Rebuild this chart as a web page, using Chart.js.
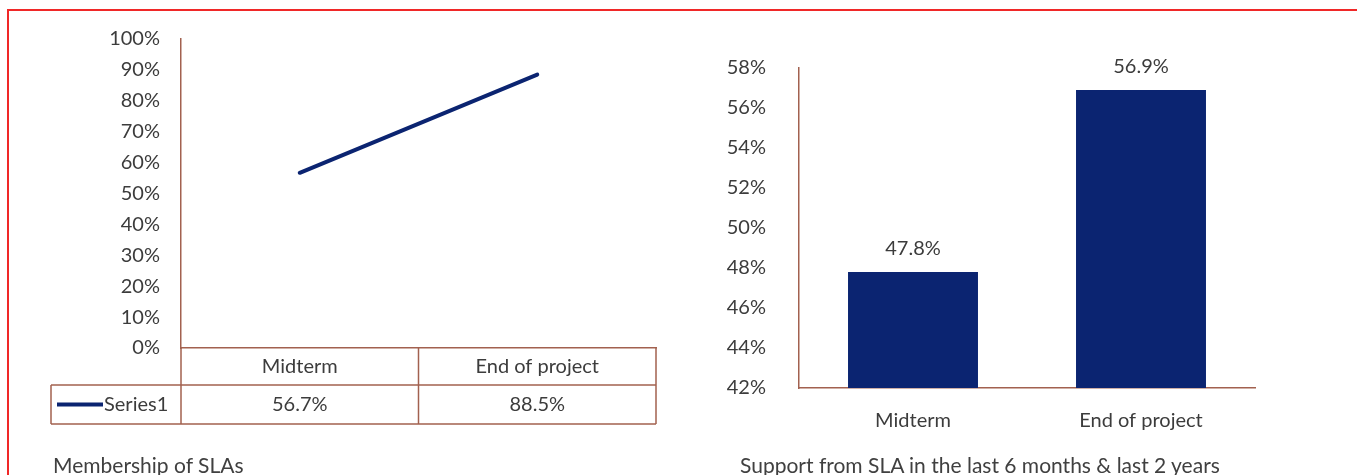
<!doctype html>
<html lang="en">
<head>
<meta charset="utf-8">
<script src="https://cdn.jsdelivr.net/npm/chart.js"></script>
<style>
  body { margin: 0; background: #fff; }
  #frame { position: absolute; left: 7px; top: 9px; width: 1360px; height: 480px; border: 2px solid #f02828; box-sizing: border-box; }
  .box { position: absolute; top: 0; height: 475px; }
  .cap { position: absolute; font-family: Lato, sans-serif; font-size: 21px; color: #404040; }
</style>
</head>
<body>
  <div id="frame"></div>
  <div class="box" style="left:0;width:690px"><canvas id="lineChart"></canvas></div>
  <div class="box" style="left:690px;width:667px"><canvas id="barChart"></canvas></div>
  <div class="cap" style="left:53px;top:452px">Membership of SLAs</div>
  <div class="cap" style="left:740px;top:452px">Support from SLA in the last 6 months &amp; last 2 years</div>

<script>
  // data
  var CATEGORIES = ['Midterm', 'End of project'];
  var MEMBERSHIP = [56.7, 88.5];
  var MEMBERSHIP_TICKS = [0, 100, 10];
  var SUPPORT = [47.8, 56.9];
  var SUPPORT_TICKS = [42, 58, 2];

  var NAVY = '#0b2471';
  var AXIS = '#a2614f';
  var TEXT = '#3c3c3c';
  var FONT = 'Lato, sans-serif';

  Chart.defaults.font.family = FONT;
  Chart.defaults.font.size = 20;
  Chart.defaults.color = TEXT;

  function fixWidth(w) {
    return function (scale) { scale.width = w; scale.paddingTop = 0; scale.paddingBottom = 0; };
  }
  function fixHeight(h) {
    return function (scale) { scale.height = h; scale.paddingLeft = 0; scale.paddingRight = 0; };
  }

  // data table under the line chart
  var dataTable = {
    id: 'dataTable',
    afterDraw: function (chart) {
      var ctx = chart.ctx, xs = chart.scales.x, area = chart.chartArea;
      var top = area.bottom, mid = top + 37, bottom = top + 76;
      var half = (xs.getPixelForValue(1) - xs.getPixelForValue(0)) / 2;
      var left = 51;
      ctx.save();
      ctx.strokeStyle = AXIS;
      ctx.lineWidth = 1.5;
      ctx.beginPath();
      ctx.moveTo(left, mid); ctx.lineTo(area.right, mid);
      ctx.moveTo(left, bottom); ctx.lineTo(area.right, bottom);
      ctx.moveTo(left, mid); ctx.lineTo(left, bottom);
      ctx.moveTo(area.left, top); ctx.lineTo(area.left, bottom);
      for (var i = 0; i < CATEGORIES.length; i++) {
        var edge = xs.getPixelForValue(i) + half;
        ctx.moveTo(edge, top); ctx.lineTo(edge, bottom);
      }
      ctx.stroke();

      var rowY = (mid + bottom) / 2;
      ctx.strokeStyle = NAVY;
      ctx.lineWidth = 4;
      ctx.beginPath();
      ctx.moveTo(57, rowY); ctx.lineTo(103, rowY);
      ctx.stroke();

      ctx.fillStyle = TEXT;
      ctx.font = '20px ' + FONT;
      ctx.textBaseline = 'middle';
      ctx.textAlign = 'left';
      ctx.fillText(chart.data.datasets[0].label, 104, rowY);
      ctx.textAlign = 'center';
      chart.data.datasets[0].data.forEach(function (v, i) {
        ctx.fillText(v.toFixed(1) + '%', xs.getPixelForValue(i), rowY);
      });
      ctx.restore();
    }
  };

  // value labels above bars
  var barLabels = {
    id: 'barLabels',
    afterDatasetsDraw: function (chart) {
      var ctx = chart.ctx;
      var meta = chart.getDatasetMeta(0);
      ctx.save();
      ctx.fillStyle = TEXT;
      ctx.font = '20px ' + FONT;
      ctx.textAlign = 'center';
      ctx.textBaseline = 'alphabetic';
      meta.data.forEach(function (bar, i) {
        ctx.fillText(chart.data.datasets[0].data[i].toFixed(1) + '%', bar.x, bar.y - 17);
      });
      ctx.restore();
    }
  };

  new Chart(document.getElementById('lineChart'), {
    type: 'line',
    data: {
      labels: CATEGORIES,
      datasets: [{
        label: 'Series1',
        data: MEMBERSHIP,
        borderColor: NAVY,
        borderWidth: 4,
        pointRadius: 0,
        borderCapStyle: 'round',
        fill: false
      }]
    },
    options: {
      responsive: true,
      maintainAspectRatio: false,
      animation: false,
      layout: { padding: { left: 0, top: 39, right: 34, bottom: 51 } },
      plugins: { legend: { display: false }, tooltip: { enabled: false } },
      scales: {
        x: {
          offset: true,
          grid: { display: false, drawTicks: false },
          border: { display: true, color: AXIS, width: 1.5 },
          ticks: { padding: 7, maxRotation: 0 },
          afterFit: fixHeight(76)
        },
        y: {
          min: MEMBERSHIP_TICKS[0],
          max: MEMBERSHIP_TICKS[1],
          grid: { display: false, drawTicks: false },
          border: { display: true, color: AXIS, width: 1.5 },
          ticks: { stepSize: MEMBERSHIP_TICKS[2], padding: 21, callback: function (v) { return v + '%'; } },
          afterFit: fixWidth(181)
        }
      }
    },
    plugins: [dataTable]
  });

  new Chart(document.getElementById('barChart'), {
    type: 'bar',
    data: {
      labels: CATEGORIES,
      datasets: [{
        label: 'Series1',
        data: SUPPORT,
        backgroundColor: NAVY,
        borderWidth: 0,
        barPercentage: 0.57,
        categoryPercentage: 1
      }]
    },
    options: {
      responsive: true,
      maintainAspectRatio: false,
      animation: false,
      layout: { padding: { left: 0, top: 68, right: 102, bottom: 37 } },
      plugins: { legend: { display: false }, tooltip: { enabled: false } },
      scales: {
        x: {
          grid: { display: false, drawTicks: false },
          border: { display: true, color: AXIS, width: 1.5 },
          ticks: { padding: 21, maxRotation: 0 },
          afterFit: fixHeight(50)
        },
        y: {
          min: SUPPORT_TICKS[0],
          max: SUPPORT_TICKS[1],
          grid: { display: false, drawTicks: false },
          border: { display: true, color: AXIS, width: 1.5 },
          ticks: { stepSize: SUPPORT_TICKS[2], padding: 33, callback: function (v) { return v + '%'; } },
          afterFit: fixWidth(109)
        }
      }
    },
    plugins: [barLabels]
  });
</script>
</body>
</html>
